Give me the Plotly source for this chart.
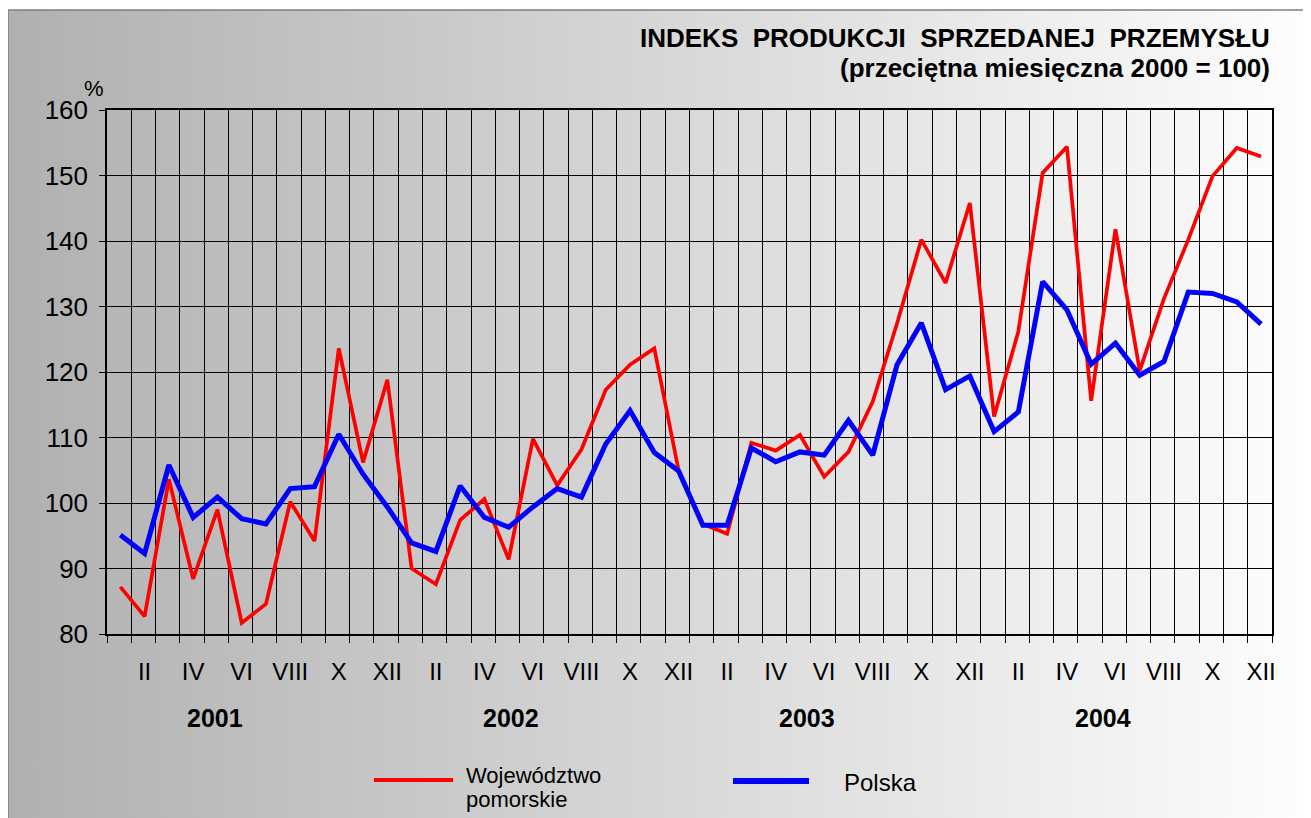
import base64
import plotly.graph_objects as go

# ---------------- data ----------------
months = ["I", "II", "III", "IV", "V", "VI", "VII", "VIII", "IX", "X", "XI", "XII"]
years = ["2001", "2002", "2003", "2004"]

pomorskie = [87.2, 82.7, 103.6, 88.4, 99.0, 81.7, 84.6, 100.2, 94.2, 123.6, 106.2, 118.8,
             90.0, 87.6, 97.4, 100.6, 91.4, 109.8, 102.7, 108.2, 117.3, 121.1, 123.6, 105.0,
             96.8, 95.3, 109.2, 108.0, 110.4, 104.0, 107.8, 115.5, 127.4, 140.2, 133.6, 145.8,
             113.2, 126.2, 150.4, 154.4, 115.6, 141.8, 120.2, 131.2, 140.2, 149.9, 154.2, 152.9]

polska = [95.1, 92.3, 105.8, 97.8, 100.9, 97.6, 96.8, 102.2, 102.5, 110.5, 104.4, 99.4,
          93.9, 92.6, 102.6, 97.8, 96.3, 99.4, 102.2, 100.9, 109.0, 114.1, 107.7, 104.9,
          96.6, 96.6, 108.4, 106.3, 107.8, 107.3, 112.6, 107.3, 121.1, 127.5, 117.3, 119.4,
          110.9, 113.9, 133.8, 129.5, 121.2, 124.4, 119.5, 121.6, 132.2, 132.0, 130.7, 127.3]

series_names = ["Województwo pomorskie", "Polska"]
title_line1 = "INDEKS\u00a0 PRODUKCJI\u00a0 SPRZEDANEJ\u00a0 PRZEMYSŁU"
title_line2 = "(przeciętna miesięczna 2000 = 100)"

# ---------------- layout geometry ----------------
# the page body adds an 8px offset; positions below are given in screen pixels
OFF = 8
W_PX, H_PX = 1311, 818
PLOT_L, PLOT_T, PW, PH = 107, 110, 1165, 524   # screen pixels of plot area
L = PLOT_L - OFF
T = PLOT_T - OFF
R = W_PX - L - PW
B = H_PX - T - PH


def px2x(px):
    return (px - PLOT_L) / PW


def py2y(py):
    return (PLOT_T + PH - py) / PH


FONT = "Liberation Sans, Arial, sans-serif"

n = len(pomorskie)
xs = list(range(1, n + 1))
month_labels = [months[(i - 1) % 12] for i in xs]
tickvals = [i for i in xs if i % 2 == 0]
ticktext = [month_labels[i - 1] for i in tickvals]

fig = go.Figure()
fig.add_trace(go.Scatter(x=xs, y=pomorskie, mode="lines", name=series_names[0],
                         line=dict(color="#ff0000", width=3.7), showlegend=False))
fig.add_trace(go.Scatter(x=xs, y=polska, mode="lines", name=series_names[1],
                         line=dict(color="#0000ff", width=5), showlegend=False))

# gradient background image (svg)
svg = ('<svg xmlns="http://www.w3.org/2000/svg" width="200" height="100" preserveAspectRatio="none">'
       '<defs><linearGradient id="g" x1="0" x2="1" y1="0" y2="0">'
       '<stop offset="0" stop-color="#b0b0b0"/><stop offset="1" stop-color="#ffffff"/>'
       '</linearGradient></defs><rect width="200" height="100" fill="url(#g)"/></svg>')
src = "data:image/svg+xml;base64," + base64.b64encode(svg.encode()).decode()

fig.add_layout_image(dict(source=src, xref="paper", yref="paper",
                          x=px2x(8), y=py2y(10), sizex=(W_PX + 20 - 8) / PW,
                          sizey=(H_PX + 20 - 10) / PH, xanchor="left", yanchor="top",
                          sizing="stretch", layer="below"))

shapes = [
    dict(type="rect", xref="paper", yref="paper", x0=px2x(8), y0=py2y(H_PX + 20),
         x1=px2x(W_PX + 20), y1=py2y(10), line=dict(color="#7f7f7f", width=1.5), layer="below"),
    dict(type="line", xref="paper", yref="paper", x0=px2x(374), x1=px2x(453),
         y0=py2y(780), y1=py2y(780), line=dict(color="#ff0000", width=4)),
    dict(type="line", xref="paper", yref="paper", x0=px2x(733), x1=px2x(809),
         y0=py2y(781), y1=py2y(781), line=dict(color="#0000ff", width=6)),
]

leg1_words = series_names[0].split(" ")
annotations = [
    dict(text=title_line1, xref="paper", yref="paper", x=px2x(1272), y=py2y(38),
         xanchor="right", yanchor="middle", showarrow=False,
         font=dict(family=FONT, size=26, color="black", weight="bold")),
    dict(text=title_line2, xref="paper", yref="paper", x=px2x(1272), y=py2y(68),
         xanchor="right", yanchor="middle", showarrow=False,
         font=dict(family=FONT, size=26, color="black", weight="bold")),
    dict(text="%", xref="paper", yref="paper", x=px2x(94), y=py2y(88),
         xanchor="center", yanchor="middle", showarrow=False,
         font=dict(family=FONT, size=22, color="black")),
    dict(text=leg1_words[0], xref="paper", yref="paper", x=px2x(464), y=py2y(775),
         xanchor="left", yanchor="middle", showarrow=False,
         font=dict(family=FONT, size=22, color="black")),
    dict(text=leg1_words[1], xref="paper", yref="paper", x=px2x(464), y=py2y(799),
         xanchor="left", yanchor="middle", showarrow=False,
         font=dict(family=FONT, size=22, color="black")),
    dict(text=series_names[1], xref="paper", yref="paper", x=px2x(842), y=py2y(782),
         xanchor="left", yanchor="middle", showarrow=False,
         font=dict(family=FONT, size=24, color="black")),
]
for i, yr in enumerate(years):
    annotations.append(dict(text=yr, xref="x", yref="paper", x=12.2 * i + 4.9, y=py2y(718),
                            xanchor="center", yanchor="middle", showarrow=False,
                            font=dict(family=FONT, size=25, color="black", weight="bold")))

fig.update_layout(
    width=W_PX, height=H_PX,
    margin=dict(l=L, r=R, t=T, b=B, pad=0),
    paper_bgcolor="white", plot_bgcolor="rgba(0,0,0,0)",
    shapes=shapes, annotations=annotations, showlegend=False,
    font=dict(family=FONT, color="black"),
)
fig.update_xaxes(
    range=[0.45, n + 0.45], tickmode="array", tickvals=tickvals, ticktext=ticktext,
    showgrid=False, ticks="", ticklabelstandoff=15,
    tickfont=dict(family=FONT, size=24, color="black"),
    showline=True, linecolor="black", linewidth=1.5, mirror=True, zeroline=False,
    minor=dict(tickmode="linear", tick0=0.45, dtick=1, showgrid=True, gridcolor="black",
               gridwidth=1, ticks="outside", ticklen=7, tickcolor="black", tickwidth=1),
)
fig.update_yaxes(
    range=[80, 160], dtick=10, showgrid=True, gridcolor="black", gridwidth=1,
    ticks="outside", ticklen=6, tickcolor="black", ticklabelstandoff=6,
    tickfont=dict(family=FONT, size=26, color="black"),
    showline=True, linecolor="black", linewidth=1.5, mirror=True, zeroline=False,
)

fig.write_html("out.html")
